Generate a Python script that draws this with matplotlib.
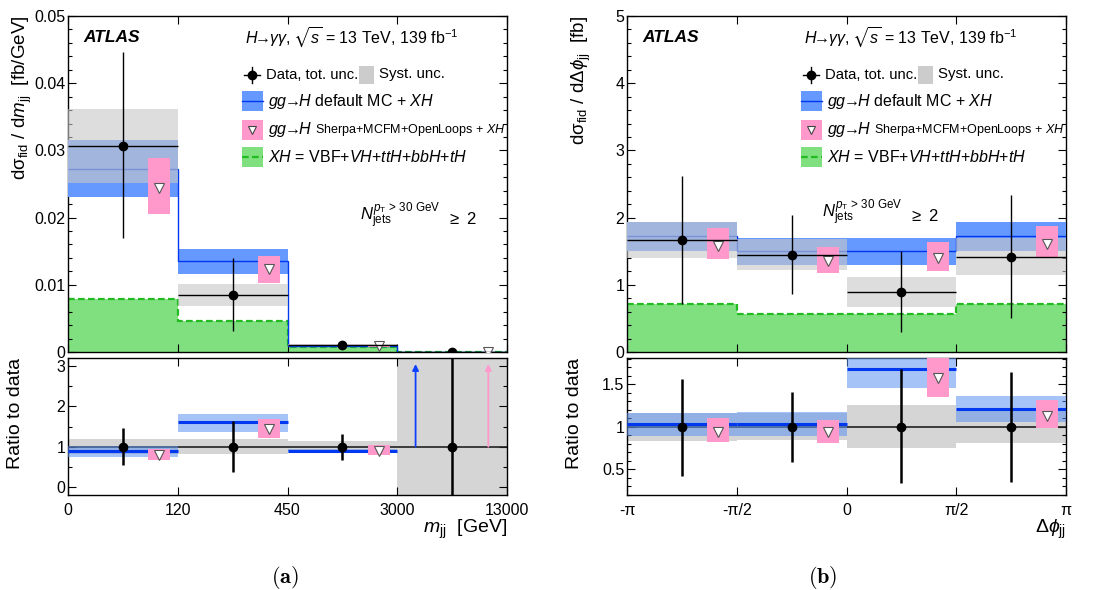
import numpy as np
import matplotlib
matplotlib.use("Agg")
import matplotlib.pyplot as plt
from matplotlib.patches import Rectangle
from matplotlib.lines import Line2D
from matplotlib.ticker import MultipleLocator, FixedLocator, NullLocator, FormatStrFormatter

plt.rcParams['font.family'] = ['Liberation Sans', 'DejaVu Sans']
plt.rcParams['mathtext.fontset'] = 'custom'
plt.rcParams['mathtext.rm'] = 'Liberation Sans'
plt.rcParams['mathtext.it'] = 'Liberation Sans:italic'
plt.rcParams['mathtext.bf'] = 'Liberation Sans:bold'
plt.rcParams['mathtext.sf'] = 'Liberation Sans'
plt.rcParams['mathtext.fallback'] = 'stixsans'

# ---------------- data: m_jj ----------------
mjj_ticklabels = ['0', '120', '450', '3000', '13000']
mjj_data = [0.0307, 0.0085, 0.0010, 0.00001]
mjj_err_up = [0.0139, 0.0055, 0.00032, 0.00004]
mjj_err_dn = [0.0138, 0.0054, 0.00032, 0.00002]
mjj_syst = [0.0055, 0.0016, 0.00015, 0.00004]
mjj_def = [0.0273, 0.0136, 0.0009, 0.00005]
mjj_def_lo = [0.0230, 0.0116, 0.00087, 0.00004]
mjj_def_hi = [0.0315, 0.0154, 0.00094, 0.00006]
mjj_sh = [0.0244, 0.0123, 0.0009, 0.00005]
mjj_sh_lo = [0.0205, 0.0103, 0.0008, 0.00004]
mjj_sh_hi = [0.0289, 0.0143, 0.00103, 0.00006]
mjj_xh = [0.0079, 0.00455, 0.0007, 0.00001]

# ---------------- data: delta phi_jj ----------------
dphi_edges = [-np.pi, -np.pi / 2, 0.0, np.pi / 2, np.pi]
dphi_ticklabels = ['-π', '-π/2', '0', 'π/2', 'π']
dphi_data = [1.67, 1.45, 0.89, 1.42]
dphi_err_up = [0.95, 0.59, 0.61, 0.92]
dphi_err_dn = [0.96, 0.59, 0.59, 0.92]
dphi_syst = [0.27, 0.23, 0.225, 0.27]
dphi_def = [1.72, 1.50, 1.50, 1.72]
dphi_def_lo = [1.50, 1.30, 1.30, 1.50]
dphi_def_hi = [1.94, 1.70, 1.70, 1.94]
dphi_sh = [1.58, 1.36, 1.40, 1.60]
dphi_sh_lo = [1.38, 1.17, 1.20, 1.41]
dphi_sh_hi = [1.84, 1.56, 1.64, 1.87]
dphi_xh = [0.72, 0.565, 0.565, 0.72]

C_BLUE = '#6699ff'
C_BLUE_LINE = '#0038f0'
C_GRAY_TOP = (200 / 255, 200 / 255, 200 / 255)
C_PINK = '#ff99cc'
C_GREEN = '#80e080'
C_GREEN_LINE = '#22bb22'
C_RBLUE = (93 / 255, 147 / 255, 242 / 255)
C_RGRAY = '#d5d5d5'

ARROW = r'\!\!\rightarrow\!\!'

W, H = 1110, 590
fig = plt.figure(figsize=(W / 100, H / 100), dpi=100)


def fx(px):
    return px / W


def fy(py):
    return 1 - py / H


def style_axes(ax):
    ax.tick_params(which='both', direction='in', top=True, right=True,
                   labelsize=11.5, width=0.8)
    ax.tick_params(which='major', length=6)
    ax.tick_params(which='minor', length=3)
    ax.tick_params(axis='y', pad=2)
    for s in ax.spines.values():
        s.set_linewidth(1.0)


def draw_panel(left_px, edges, ticklabels, data, eup, edn, syst, dfl, dlo, dhi,
               sh, slo, shi, xh, ylim, ymaj, ymin, rylim, rymaj, rymin,
               ylabel, xlabel, caption, cap_x, njets_pos):
    ax = fig.add_axes([fx(left_px), fy(352), fx(439), (352 - 16) / H])
    rx = fig.add_axes([fx(left_px), fy(495), fx(439), (495 - 358) / H])
    edges = np.asarray(edges, float)
    lo_e, hi_e = edges[:-1], edges[1:]
    wid = hi_e - lo_e
    cen = lo_e + 0.5 * wid
    shx = lo_e + 0.83 * wid
    data = np.asarray(data); eup = np.asarray(eup); edn = np.asarray(edn)
    syst = np.asarray(syst); dfl = np.asarray(dfl); dlo = np.asarray(dlo)
    dhi = np.asarray(dhi); sh = np.asarray(sh); slo = np.asarray(slo)
    shi = np.asarray(shi); xh = np.asarray(xh)

    # ---------- main panel ----------
    ax.bar(lo_e, xh, width=wid, align='edge', color=C_GREEN, lw=0, zorder=1)
    ax.stairs(xh, edges, baseline=None, color=C_GREEN_LINE, lw=1.6,
              ls=(0, (3, 1.5)), zorder=2)
    ax.bar(lo_e, dhi - dlo, bottom=dlo, width=wid, align='edge', color=C_BLUE,
           lw=0, zorder=3)
    ax.stairs(dfl, edges, baseline=None, color=C_BLUE_LINE, lw=1.0, zorder=4)
    ax.bar(lo_e, 2 * syst, bottom=data - syst, width=wid, align='edge',
           color=C_GRAY_TOP, alpha=0.62, lw=0, zorder=5)
    ax.bar(shx, shi - slo, bottom=slo, width=0.2 * wid, align='center',
           color=C_PINK, lw=0, zorder=6)
    ax.plot(shx, sh, ls='none', marker='v', ms=6.5, mfc='white', mec='#555555',
            mew=0.8, zorder=7)
    ax.errorbar(cen, data, xerr=0.5 * wid, yerr=[edn, eup], fmt='o', color='black',
                ms=6, elinewidth=1.0, capsize=0, zorder=8)
    ax.set_xlim(edges[0], edges[-1])
    ax.set_ylim(*ylim)
    ax.xaxis.set_major_locator(FixedLocator(edges))
    ax.xaxis.set_minor_locator(NullLocator())
    ax.set_xticklabels([])
    ax.yaxis.set_major_locator(MultipleLocator(ymaj))
    ax.yaxis.set_minor_locator(MultipleLocator(ymin))
    ax.yaxis.set_major_formatter(FormatStrFormatter('%g'))
    style_axes(ax)
    ax.set_ylabel(ylabel, fontsize=13.5, loc='top')
    ax.yaxis.set_label_coords(-0.078, 1.0)

    # texts & legend
    t = ax.transAxes
    ax.text(0.034, 0.935, 'ATLAS', transform=t, fontsize=12.5, weight='bold',
            style='italic', va='center')
    ax.text(0.403, 0.935,
            r'$H' + ARROW + r'\gamma\gamma$, $\sqrt{s}$ = 13 TeV, 139 fb$^{\mathregular{-1}}$',
            transform=t, fontsize=11.5, va='center')
    # row 1
    y1 = 0.824
    ax.add_line(Line2D([0.401, 0.437], [y1, y1], transform=t, color='black', lw=1.0))
    ax.add_line(Line2D([0.419, 0.419], [y1 - 0.024, y1 + 0.024], transform=t,
                       color='black', lw=1.0))
    ax.add_line(Line2D([0.419], [y1], transform=t, marker='o', ms=6, color='black'))
    ax.text(0.452, y1, 'Data, tot. unc.', transform=t, fontsize=10.6, va='center')
    ax.add_patch(Rectangle((0.662, y1 - 0.026), 0.034, 0.052, transform=t,
                           color='#cccccc', lw=0))
    ax.text(0.709, y1 + 0.004, 'Syst. unc.', transform=t, fontsize=10.8, va='center')
    # rows 2-4
    rows = [0.747, 0.661, 0.580]
    bx0, bw, bh = 0.396, 0.048, 0.058
    ax.add_patch(Rectangle((bx0, rows[0] - bh / 2), bw, bh, transform=t,
                           color=C_BLUE, lw=0))
    ax.add_line(Line2D([bx0, bx0 + bw], [rows[0], rows[0]], transform=t,
                       color=C_BLUE_LINE, lw=1.0))
    ax.text(0.456, rows[0], r'$gg' + ARROW + r'H$ default MC + $XH$', transform=t,
            fontsize=11.5, va='center')
    ax.add_patch(Rectangle((bx0, rows[1] - bh / 2), bw, bh, transform=t,
                           color=C_PINK, lw=0))
    ax.add_line(Line2D([bx0 + bw / 2], [rows[1]], transform=t, marker='v', ms=6,
                       mfc='white', mec='#444444', mew=0.8))
    gtxt = ax.text(0.456, rows[1], r'$gg' + ARROW + r'H$', transform=t,
                   fontsize=11.5, va='center')
    ax.annotate(r'Sherpa+MCFM+OpenLoops + $XH$', xy=(1.0, 0.5), xycoords=gtxt,
                xytext=(2.5, 0), textcoords='offset points', fontsize=9.0,
                va='center')
    ax.add_patch(Rectangle((bx0, rows[2] - bh / 2), bw, bh, transform=t,
                           color=C_GREEN, lw=0))
    ax.add_line(Line2D([bx0, bx0 + bw], [rows[2], rows[2]], transform=t,
                       color=C_GREEN_LINE, lw=1.6, ls=(0, (3, 1.5))))
    ax.text(0.456, rows[2], r'$XH$ = VBF+$VH$+$ttH$+$bbH$+$tH$', transform=t,
            fontsize=11.5, va='center')
    ntxt = ax.text(njets_pos[0], njets_pos[1],
                   r'$N_{\mathregular{jets}}^{p_{\mathregular{T}}\,\mathregular{>\,30\ GeV}}$',
                   transform=t, fontsize=12, va='center')
    ax.annotate(r'$\geq$ 2', xy=(1.0, 0.4), xycoords=ntxt, xytext=(5, 0),
                textcoords='offset points', fontsize=12, va='center')

    # ---------- ratio panel ----------
    r_def = dfl / data
    r_dlo = dlo / data
    r_dhi = dhi / data
    r_sh = sh / data
    r_slo = slo / data
    r_shi = shi / data
    r_sys = syst / data
    r_eup = eup / data
    r_edn = edn / data
    rx.bar(lo_e, 2 * r_sys, bottom=1 - r_sys, width=wid, align='edge',
           color=C_RGRAY, lw=0, zorder=1)
    rx.axhline(1.0, color='#222222', lw=1.2, zorder=2)
    rx.bar(lo_e, r_dhi - r_dlo, bottom=r_dlo, width=wid, align='edge',
           color=C_RBLUE, alpha=0.55, lw=0, zorder=3)
    rx.hlines(r_def, lo_e, hi_e, color=C_BLUE_LINE, lw=2.2, zorder=4)
    rx.bar(shx, r_shi - r_slo, bottom=r_slo, width=0.2 * wid, align='center',
           color=C_PINK, lw=0, zorder=5)
    rx.plot(shx, r_sh, ls='none', marker='v', ms=6.5, mfc='white', mec='#555555',
            mew=0.8, zorder=6)
    rx.errorbar(cen, np.ones_like(cen), yerr=[r_edn, r_eup], fmt='o', color='black',
                ms=6, elinewidth=1.8, capsize=0, zorder=7)
    top = rylim[1]
    for i in range(len(cen)):
        if r_def[i] > top:
            rx.annotate('', xy=(lo_e[i] + 0.167 * wid[i], top - 0.15),
                        xytext=(lo_e[i] + 0.167 * wid[i], 1.0),
                        arrowprops=dict(arrowstyle='-|>', color='#1040ff', lw=1.3,
                                        mutation_scale=9, shrinkA=0, shrinkB=0),
                        zorder=6)
        if r_sh[i] > top:
            rx.annotate('', xy=(shx[i], top - 0.15), xytext=(shx[i], 1.0),
                        arrowprops=dict(arrowstyle='-|>', color='#ff99cc', lw=1.3,
                                        mutation_scale=9, shrinkA=0, shrinkB=0),
                        zorder=6)
    rx.set_xlim(edges[0], edges[-1])
    rx.set_ylim(*rylim)
    rx.xaxis.set_major_locator(FixedLocator(edges))
    rx.xaxis.set_minor_locator(NullLocator())
    rx.set_xticklabels(ticklabels)
    rx.yaxis.set_major_locator(MultipleLocator(rymaj))
    rx.yaxis.set_minor_locator(MultipleLocator(rymin))
    rx.yaxis.set_major_formatter(FormatStrFormatter('%g'))
    style_axes(rx)
    rx.tick_params(axis='x', pad=6)
    rx.set_ylabel('Ratio to data', fontsize=14, loc='top')
    rx.yaxis.set_label_coords(-0.1, 1.0)
    rx.set_xlabel(xlabel, fontsize=14, loc='right')
    rx.xaxis.set_label_coords(1.0, -0.17)
    fig.text(cap_x, 0.022, caption, fontsize=16, ha='center', va='center',
             math_fontfamily='cm')
    return ax, rx


xa = np.arange(len(mjj_ticklabels))
draw_panel(68, xa, mjj_ticklabels, mjj_data, mjj_err_up, mjj_err_dn, mjj_syst,
           mjj_def, mjj_def_lo, mjj_def_hi, mjj_sh, mjj_sh_lo, mjj_sh_hi, mjj_xh,
           (0, 0.05), 0.01, 0.002, (-0.2, 3.2), 1, 0.5,
           r'd$\mathregular{\sigma}_{\mathregular{fid}}$ / d$m_{\mathregular{jj}}$  [fb/GeV]',
           r'$m_{\mathregular{jj}}$  [GeV]', r'$\mathbf{(a)}$', fx(285), (0.665, 0.405))
draw_panel(627, dphi_edges, dphi_ticklabels, dphi_data, dphi_err_up, dphi_err_dn,
           dphi_syst, dphi_def, dphi_def_lo, dphi_def_hi, dphi_sh, dphi_sh_lo,
           dphi_sh_hi, dphi_xh, (0, 5), 1, 0.2, (0.2, 1.81), 0.5, 0.1,
           r'd$\mathregular{\sigma}_{\mathregular{fid}}$ / d$\Delta\phi_{\mathregular{jj}}$  [fb]',
           r'$\Delta\phi_{\mathregular{jj}}$', r'$\mathbf{(b)}$', fx(823), (0.444, 0.415))

fig.savefig('out.png', dpi=100)
